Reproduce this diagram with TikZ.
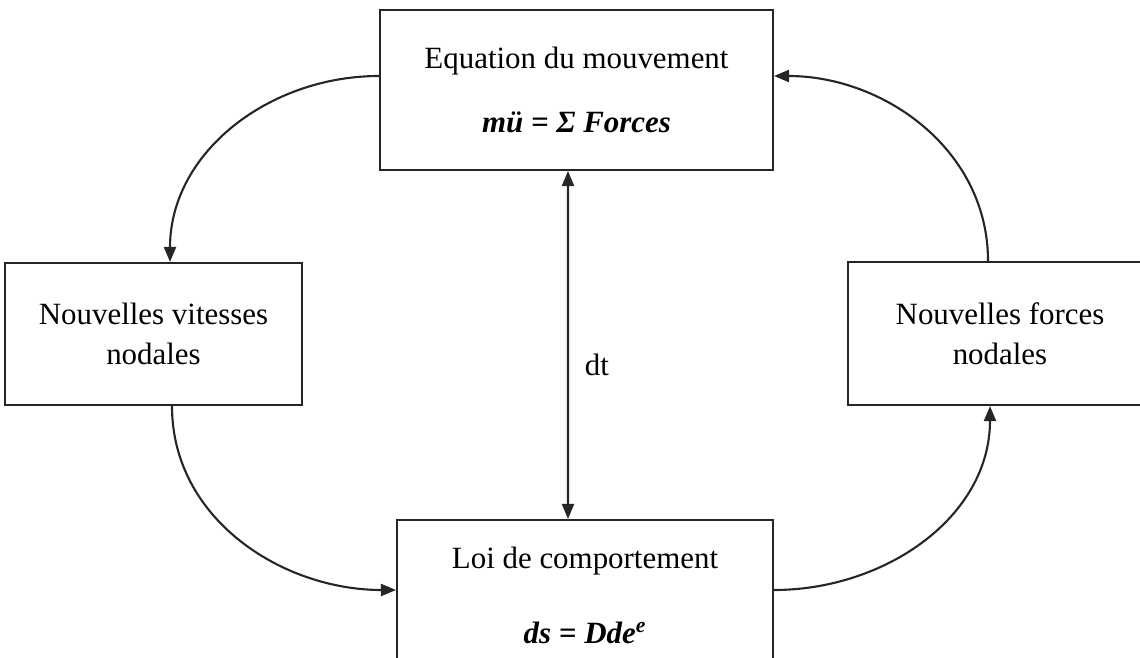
\documentclass[tikz,border=0pt]{standalone}
\usepackage{fontspec}
\setmainfont{Liberation Serif}
\usepackage{tikz}
\usetikzlibrary{arrows.meta}

\begin{document}
\begin{tikzpicture}[x=0.02cm,y=-0.02cm,
  line width=1.2pt, draw=black!85,
  font=\fontsize{17.6}{21}\selectfont,
  box/.style={draw, line width=1.2pt, align=center, inner sep=0pt},
  tip/.style={-{Triangle[length=0.3cm,width=0.24cm]}}]
\useasboundingbox (0,0) rectangle (1140,658);
\clip (0,0) rectangle (1140,658);

% Boxes
\node[box, minimum width=7.86cm, minimum height=3.2cm] (eq) at (576.5,90)
  {Equation du mouvement\\[0.56cm]\textbf{\textit{mü = Σ Forces}}};
\node[box, minimum width=5.94cm, minimum height=2.84cm] (vit) at (153.5,334)
  {Nouvelles vitesses\\[0.06cm]nodales};
\node[box, minimum width=6.08cm, minimum height=2.86cm] (forc) at (1000,333.5)
  {Nouvelles forces\\[0.06cm]nodales};
\node[box, minimum width=7.52cm, minimum height=3.0cm] (loi) at (585,595)
  {Loi de comportement\\[0.76cm]\textbf{\textit{ds = Dde\textsuperscript{e}}}};

% Cycle
\draw[tip] ([yshift=0.28cm]eq.west) to[out=180,in=90] ([xshift=0.33cm]vit.north);
\draw[tip] ([xshift=0.37cm]vit.south) to[out=-90,in=180] ([yshift=0.1cm]loi.west);
\draw[tip] ([yshift=0.1cm]loi.east) to[out=0,in=-90] ([xshift=-0.2cm]forc.south);
\draw[tip] ([xshift=-0.24cm]forc.north) to[out=90,in=0] ([yshift=0.28cm]eq.east);

% Time step
\draw[{Triangle[length=0.3cm,width=0.24cm]}-{Triangle[length=0.3cm,width=0.24cm]}]
  ([xshift=-0.17cm]eq.south) -- ([xshift=-0.34cm]loi.north);
\node (dt) at (597,365) {dt};
\end{tikzpicture}
\end{document}
